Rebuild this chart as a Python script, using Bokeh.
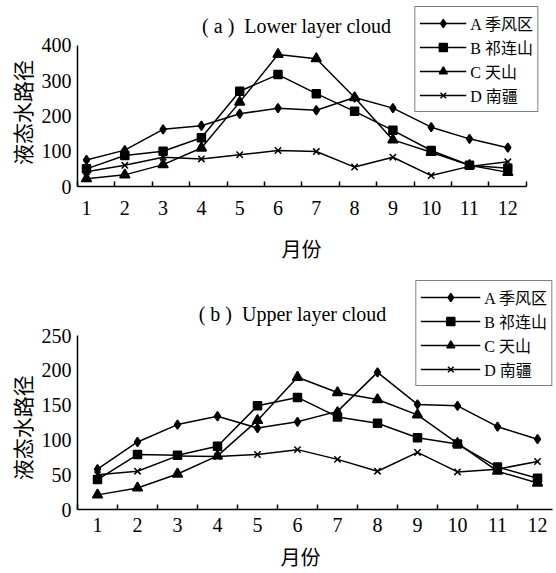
from bokeh.plotting import figure
from bokeh.layouts import column
from bokeh.models import Range1d, FixedTicker, Label, Legend, LegendItem, Title
from bokeh.embed import file_html
from bokeh.resources import INLINE

months = list(range(1, 13))
month_labels = [str(m) for m in months]
series_names = ["A 季风区", "B 祁连山", "C 天山", "D 南疆"]
markers = ["diamond", "square", "triangle", "x"]

lower_A = [75, 103, 162, 172, 206, 222, 216, 252, 222, 168, 135, 110]
lower_B = [50, 88, 100, 138, 270, 317, 263, 213, 159, 102, 60, 52]
lower_C = [22, 33, 62, 109, 239, 374, 362, 252, 132, 97, 60, 40]
lower_D = [42, 60, 83, 78, 90, 102, 99, 55, 83, 31, 57, 70]
lower_yticks = [0, 100, 200, 300, 400]

upper_A = [58, 97, 122, 134, 117, 126, 141, 197, 151, 149, 119, 101]
upper_B = [43, 79, 78, 91, 149, 161, 133, 124, 103, 94, 61, 45]
upper_C = [21, 31, 51, 77, 128, 190, 168, 158, 136, 95, 55, 38]
upper_D = [50, 55, 77, 76, 79, 86, 72, 55, 82, 54, 58, 69]
upper_yticks = [0, 50, 100, 150, 200, 250]

SERIF = "'Liberation Serif', 'Noto Sans CJK SC'"
CJK = "'Noto Sans CJK SC'"
NB = "\u00a0"
IS = "\u3000"


def make_panel(title, series, yticks, height, left, fw, top, fh, right,
               x0, px_month, px_unit, x_end_bound, boundary_ticks,
               title_xy, ylab_pad, xlab_offset, xlab_standoff,
               tick_standoff, legend_margin, glyph_w):
    x1 = x0 + fw / px_month
    y1 = fh / px_unit
    bottom = height - top - fh
    p = figure(width=left + fw + right, height=height,
               frame_width=fw, frame_height=fh,
               min_border_left=left, min_border_right=right,
               min_border_top=top, min_border_bottom=bottom,
               x_range=Range1d(x0, x1), y_range=Range1d(0, y1),
               output_backend="svg", toolbar_location=None)
    p.outline_line_color = None
    p.xgrid.visible = False
    p.ygrid.visible = False
    p.background_fill_color = "white"
    p.border_fill_color = "white"

    # x axis
    xa = p.xaxis[0]
    xa.ticker = FixedTicker(ticks=months, minor_ticks=boundary_ticks)
    xa.major_label_overrides = {m: l for m, l in zip(months, month_labels)}
    xa.bounds = (x0, x_end_bound)
    xa.major_tick_in = 0
    xa.major_tick_out = 0
    xa.minor_tick_in = 5
    xa.minor_tick_out = 0
    xa.minor_tick_line_color = "black"
    xa.minor_tick_line_width = 1.5
    xa.axis_line_color = "black"
    xa.axis_line_width = 1.5
    xa.major_label_text_font = SERIF
    xa.major_label_text_font_size = "20px"
    xa.major_label_text_color = "black"
    xa.major_label_standoff = tick_standoff

    # y axis
    ya = p.yaxis[0]
    ya.ticker = FixedTicker(ticks=yticks)
    ya.bounds = (0, yticks[-1])
    ya.major_tick_in = 0
    ya.major_tick_out = 0
    ya.minor_tick_line_color = None
    ya.axis_line_color = "black"
    ya.axis_line_width = 1.5
    ya.major_label_text_font = SERIF
    ya.major_label_text_font_size = "20px"
    ya.major_label_text_color = "black"
    ya.major_label_standoff = 6
    ya.axis_label = "液态水路径" + ylab_pad
    ya.axis_label_text_font = CJK
    ya.axis_label_text_font_size = "21px"
    ya.axis_label_text_font_style = "normal"
    ya.axis_label_text_color = "black"
    ya.axis_label_standoff = 2

    items = []
    sizes = {"diamond": 9, "square": 8, "triangle": 10, "x": 9}
    for name, mk, vals in zip(series_names, markers, series):
        lr = p.line(months, vals, line_color="black", line_width=1.5)
        sr = p.scatter(months, vals, marker=mk, size=sizes[mk],
                       fill_color="black", line_color="black", line_width=1.5)
        items.append(LegendItem(label=name, renderers=[lr, sr]))

    legend = Legend(items=items, location="top_right")
    legend.margin = legend_margin
    legend.padding = 4
    legend.spacing = 0
    legend.label_height = 20
    legend.glyph_height = 20
    legend.glyph_width = glyph_w
    legend.label_standoff = 4
    legend.label_text_font = SERIF
    legend.label_text_font_size = "16px"
    legend.label_text_color = "black"
    legend.border_line_color = "black"
    legend.border_line_width = 1.5
    legend.background_fill_color = "white"
    legend.background_fill_alpha = 1
    p.add_layout(legend)

    p.add_layout(Label(x=title_xy[0], y=title_xy[1], x_units="screen", y_units="screen",
                       text=title, text_font=SERIF, text_font_size="20px",
                       text_align="center", text_baseline="middle", text_color="black"))

    p.add_layout(Title(text="月份", align="left", offset=xlab_offset,
                       standoff=xlab_standoff, text_font=CJK, text_font_size="20px",
                       text_font_style="normal", text_color="black"), "below")
    return p


top_bounds = [0.765 + k * (12.48 - 0.765) / 12 for k in range(13)]
p1 = make_panel("(" + NB + "a" + NB + ")" + NB + NB + "Lower layer cloud",
                [lower_A, lower_B, lower_C, lower_D], lower_yticks,
                height=278, left=76, fw=464, top=3, fh=183, right=16,
                x0=0.765, px_month=38.3, px_unit=0.353, x_end_bound=12.48,
                boundary_ticks=top_bounds,
                title_xy=(219, 161), ylab_pad=IS + NB * 3,
                xlab_offset=204, xlab_standoff=28, tick_standoff=14,
                legend_margin=3, glyph_w=47)

bot_bounds = [k + 0.5 for k in range(12)]
p2 = make_panel("(" + NB + "b" + NB + ")" + NB + NB + "Upper layer cloud",
                [upper_A, upper_B, upper_C, upper_D], upper_yticks,
                height=295, left=77, fw=477, top=0, fh=231, right=2,
                x0=0.5, px_month=40.0, px_unit=0.696, x_end_bound=12.375,
                boundary_ticks=bot_bounds,
                title_xy=(215, 196), ylab_pad=IS * 3 + NB,
                xlab_offset=203, xlab_standoff=11, tick_standoff=8,
                legend_margin=2, glyph_w=60)

layout = column(p1, p2, spacing=0)
open("out.html", "w").write(file_html(layout, INLINE))
